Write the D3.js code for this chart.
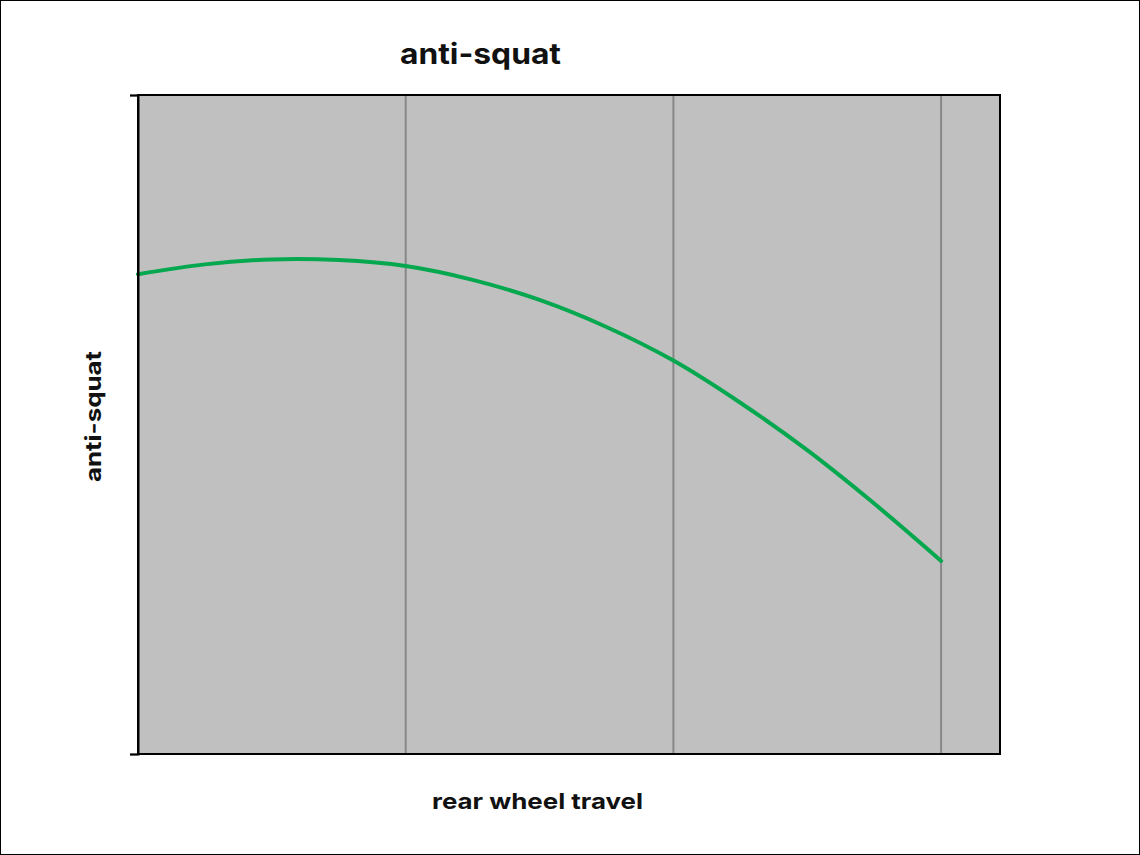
<!DOCTYPE html>
<html>
<head>
<meta charset="utf-8">
<script src="https://cdn.jsdelivr.net/npm/d3@7"></script>
<style>
html,body{margin:0;padding:0;background:#fff;}
svg{display:block;}
</style>
</head>
<body>
<svg id="chart" width="1140" height="855"></svg>
<script>
// Data
const travel = [0, 0.25, 0.5, 0.75, 1.0, 1.25, 1.5, 1.75, 2.0, 2.25, 2.5, 2.75, 3.0];
const antiSquat = [72.8, 74.3, 75.05, 74.95, 74.05, 71.95, 68.9, 64.8, 59.7, 53.3, 46.1, 38.0, 29.3];
const xGrid = [1, 2, 3];
const yTicks = [0, 100];
const chartTitle = "anti-squat";
const xLabel = "rear wheel travel";
const yLabel = "anti-squat";

const svg = d3.select("#chart");
const W = 1140, H = 855;
const m = {left: 138, top: 95, right: 1000, bottom: 754};

// outer border
svg.append("rect").attr("x", 0.5).attr("y", 0.5).attr("width", W - 1).attr("height", H - 1)
  .attr("fill", "#fff").attr("stroke", "#000").attr("stroke-width", 1);

const x = d3.scaleLinear().domain([0, 3.22]).range([m.left, m.right]);
const y = d3.scaleLinear().domain([0, 100]).range([m.bottom, m.top]);

// plot background
svg.append("rect").attr("x", m.left).attr("y", m.top)
  .attr("width", m.right - m.left).attr("height", m.bottom - m.top)
  .attr("fill", "#c0c0c0");

// vertical gridlines
svg.append("g").selectAll("line").data(xGrid).join("line")
  .attr("x1", d => x(d)).attr("x2", d => x(d))
  .attr("y1", m.top).attr("y2", m.bottom)
  .attr("stroke", "#878787").attr("stroke-width", 2);

// line
const line = d3.line().x((d, i) => x(travel[i])).y(d => y(d)).curve(d3.curveCatmullRom.alpha(0.5));
svg.append("path").datum(antiSquat).attr("d", line)
  .attr("fill", "none").attr("stroke", "#06a84f").attr("stroke-width", 4)
  .attr("stroke-linecap", "round");

// border of plot
svg.append("rect").attr("x", m.left).attr("y", m.top)
  .attr("width", m.right - m.left).attr("height", m.bottom - m.top)
  .attr("fill", "none").attr("stroke", "#000").attr("stroke-width", 2);

// y axis ticks (no labels)
const yAxis = d3.axisLeft(y).tickValues(yTicks).tickSize(8).tickFormat("");
const ga = svg.append("g").attr("transform", `translate(${m.left},0)`).call(yAxis);
ga.select(".domain").attr("stroke", "#000").attr("stroke-width", 2);
ga.selectAll(".tick line").attr("stroke", "#000").attr("stroke-width", 1.5);

const font = "Inter, 'Open Sans', 'Liberation Sans', sans-serif";
svg.append("text").attr("x", 480.5).attr("y", 64).attr("text-anchor", "middle")
  .attr("font-family", font).attr("font-weight", "bold").attr("font-size", 29)
  .attr("textLength", 161).attr("lengthAdjust", "spacingAndGlyphs")
  .attr("fill", "#111").text(chartTitle);

svg.append("text").attr("x", 537.5).attr("y", 809).attr("text-anchor", "middle")
  .attr("font-family", font).attr("font-weight", "bold").attr("font-size", 22)
  .attr("textLength", 211).attr("lengthAdjust", "spacingAndGlyphs")
  .attr("fill", "#111").text(xLabel);

svg.append("text").attr("transform", "translate(101,416.5) rotate(-90)").attr("text-anchor", "middle")
  .attr("font-family", font).attr("font-weight", "bold").attr("font-size", 22)
  .attr("textLength", 131).attr("lengthAdjust", "spacingAndGlyphs")
  .attr("fill", "#111").text(yLabel);
</script>
</body>
</html>
